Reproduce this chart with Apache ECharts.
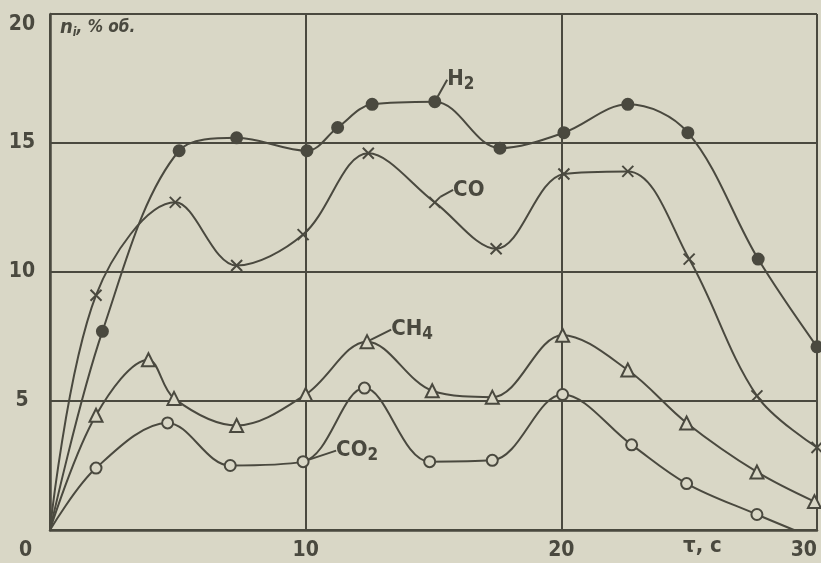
<!DOCTYPE html>
<html>
<head>
<meta charset="utf-8">
<script src="https://cdn.jsdelivr.net/npm/echarts@6/dist/echarts.min.js"></script>
<style>
html,body{margin:0;padding:0;background:#d9d7c6;}
#c{width:821px;height:563px;}
</style>
</head>
<body>
<div id="c"></div>
<script>
// ---- data ----
var xTicks = [0, 10, 20, 30];
var yTicks = [0, 5, 10, 15, 20];

var h2 = [[0,0],[2.05,7.7],[5.05,14.7],[7.3,15.2],[10.05,14.7],[11.25,15.6],[12.6,16.5],[15.05,16.6],[17.6,14.8],[20.1,15.4],[22.6,16.5],[24.95,15.4],[27.7,10.5],[30,7.1]];
var co = [[0,0],[1.8,9.1],[4.9,12.7],[7.3,10.25],[9.9,11.45],[12.45,14.6],[15.05,12.7],[17.45,10.9],[20.1,13.8],[22.6,13.9],[25,10.5],[27.65,5.2],[30,3.2]];
var ch4 = [[0,0],[1.8,4.45],[3.85,6.6],[4.85,5.1],[7.3,4.05],[10,5.25],[12.4,7.3],[14.95,5.4],[17.3,5.15],[20.05,7.55],[22.6,6.2],[24.9,4.15],[27.65,2.25],[29.9,1.1]];
var co2 = [[0,0],[1.8,2.4],[4.6,4.15],[7.05,2.5],[9.9,2.65],[12.3,5.5],[14.85,2.65],[17.3,2.7],[20.05,5.25],[22.75,3.3],[24.9,1.8],[27.65,0.6],[29.1,0]];

var names = ['H2', 'CO', 'CH4', 'CO2'];
var labelIdx = [7, 6, 6, 4];
var labelShift = [[26,3],[34,13],[45,14],[54,14]];

// ---- styles ----
var BG = '#d9d7c6';
var INK = '#4a493f';
var FONT = "'DejaVu Sans Condensed', 'Liberation Sans Narrow', 'DejaVu Sans', sans-serif";
var crossPath = 'path://M0,0L10,10M10,0L0,10';

function richName(n) {
  var m = n.match(/^([A-Z]+)(\d?)$/);
  return '{m|' + m[1] + '}' + (m[2] ? '{s|' + m[2] + '}' : '');
}

function build(data, symbol, filled) {
  return data.map(function (p, i) {
    var item = { value: p };
    var noMark = (p[0] === 0 && p[1] === 0) || (i === data.length - 1 && p[1] === 0);
    if (noMark) item.symbol = 'none';
    return item;
  });
}

function mkSeries(k, data, symbol, size, filled) {
  var d = build(data, symbol, filled);
  var li = labelIdx[k];
  d[li].label = {
    show: true,
    position: 'top',
    formatter: richName(names[k]),
    rich: {
      m: { fontFamily: FONT, fontSize: 22, color: INK, fontWeight: 'bold', lineHeight: 28, verticalAlign: 'middle' },
      s: { fontFamily: FONT, fontSize: 17, color: INK, fontWeight: 'bold', lineHeight: 28, verticalAlign: 'bottom', padding: [10, 0, 0, 0] }
    }
  };
  return {
    type: 'line',
    name: names[k],
    data: d,
    smooth: 0.35,
    symbol: symbol,
    symbolSize: size,
    showAllSymbol: true,
    lineStyle: { color: INK, width: 2 },
    itemStyle: { color: filled ? INK : BG, borderColor: INK, borderWidth: 2 },
    labelLine: { show: true, lineStyle: { color: INK, width: 2 } },
    labelLayout: function (params) {
      if (params.dataIndex === li) {
        return { dx: labelShift[k][0], dy: labelShift[k][1] };
      }
    },
    z: 3
  };
}

var chart = echarts.init(document.getElementById('c'), null, { renderer: 'canvas' });
chart.setOption({
  backgroundColor: BG,
  animation: false,
  grid: { left: 50, right: 4, top: 14, bottom: 33, containLabel: false },
  xAxis: {
    type: 'value', min: xTicks[0], max: xTicks[xTicks.length - 1], interval: 10,
    axisLine: { show: true, onZero: false, lineStyle: { color: INK, width: 2.5 } },
    axisTick: { show: false },
    splitLine: { show: true, lineStyle: { color: INK, width: 2 } },
    axisLabel: {
      color: INK, fontFamily: FONT, fontSize: 21, fontWeight: 'bold', margin: 10,
      alignMaxLabel: 'right',
      formatter: function (v) { return v === 0 ? '' : String(v); }
    }
  },
  yAxis: {
    type: 'value', min: yTicks[0], max: yTicks[yTicks.length - 1], interval: 5,
    axisLine: { show: true, onZero: false, lineStyle: { color: INK, width: 2.5 } },
    axisTick: { show: false },
    splitLine: { show: true, lineStyle: { color: INK, width: 2 } },
    axisLabel: {
      color: INK, fontFamily: FONT, fontSize: 21, fontWeight: 'bold', margin: 28, align: 'center',
      verticalAlignMaxLabel: 'top',
      formatter: function (v) { return v === 0 ? '' : String(v); }
    }
  },
  graphic: [
    { type: 'text', left: 19, top: 540, style: { text: '0', fill: INK, font: 'bold 21px ' + FONT } },
    { type: 'text', left: 683, top: 535, style: { text: 'τ, с', fill: INK, font: 'bold 22px ' + FONT } },
    {
      type: 'text', left: 60, top: 18,
      style: {
        text: '{n|n}{i|i}{t|, % об.}',
        rich: {
          n: { font: 'italic bold 20px ' + FONT, fill: INK },
          i: { font: 'italic bold 12px ' + FONT, fill: INK, padding: [10, 0, 0, 0] },
          t: { font: 'italic bold 17px ' + FONT, fill: INK }
        }
      }
    }
  ],
  series: [
    mkSeries(0, h2, 'circle', 11, true),
    mkSeries(1, co, crossPath, 11, false),
    mkSeries(2, ch4, 'triangle', 13, false),
    mkSeries(3, co2, 'circle', 11, false)
  ]
});
</script>
</body>
</html>
